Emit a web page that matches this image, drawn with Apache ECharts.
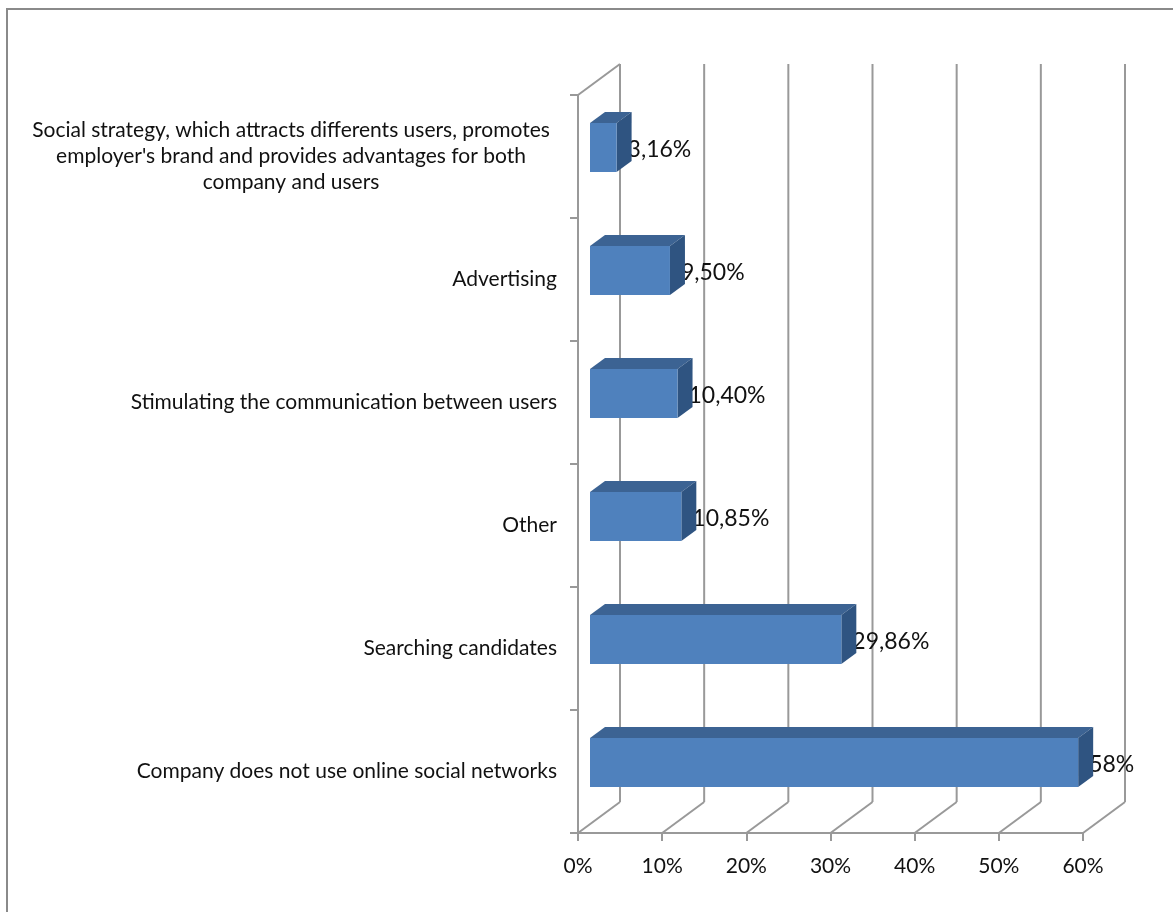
<!DOCTYPE html>
<html>
<head>
<meta charset="utf-8">
<script src="https://cdn.jsdelivr.net/npm/echarts@6/dist/echarts.min.js"></script>
<style>
html,body{margin:0;padding:0;background:#fff;}
#main{width:1173px;height:912px;}
</style>
</head>
<body>
<div id="main"></div>
<script>
const categories = [
  "Company does not use online social networks",
  "Searching candidates",
  "Other",
  "Stimulating the communication between users",
  "Advertising",
  "Social strategy, which attracts differents users, promotes\nemployer's brand and provides advantages for both\ncompany and users"
];
const values = [58, 29.86, 10.85, 10.40, 9.50, 3.16];
const valueLabels = ["58%", "29,86%", "10,85%", "10,40%", "9,50%", "3,16%"];
const xTicks = [0, 10, 20, 30, 40, 50, 60];

const FONT = 'Lato';
const DEPTH_X = 42, DEPTH_Y = -31;   // wall depth
const BAR_OFF_X = 12, BAR_OFF_Y = -9; // bar front plane offset
const BAR_DX = 15, BAR_DY = -11;      // bar depth
const GRID_COLOR = '#999999';

const chart = echarts.init(document.getElementById('main'));

function wallRender(params, api) {
  const v = api.value(0);
  const p0 = api.coord([v, 0]);
  const cs = params.coordSys;
  const x = p0[0];
  const yBottom = cs.y + cs.height;
  const yTop = cs.y;
  const children = [
    { type: 'line', shape: { x1: x + DEPTH_X, y1: yTop + DEPTH_Y, x2: x + DEPTH_X, y2: yBottom + DEPTH_Y },
      style: { stroke: GRID_COLOR, lineWidth: 2 } },
    { type: 'line', shape: { x1: x, y1: yBottom, x2: x + DEPTH_X, y2: yBottom + DEPTH_Y },
      style: { stroke: GRID_COLOR, lineWidth: 2 } }
  ];
  if (params.dataIndex === 0) {
    children.push({ type: 'line', shape: { x1: x, y1: yTop, x2: x + DEPTH_X, y2: yTop + DEPTH_Y },
      style: { stroke: GRID_COLOR, lineWidth: 2 } });
  }
  return { type: 'group', children };
}

function barRender(params, api) {
  const idx = api.value(0);
  const v = api.value(1);
  const c0 = api.coord([0, idx]);
  const c1 = api.coord([v, idx]);
  const band = api.size([0, 1])[1];
  const h = band * 0.4;
  const x0 = c0[0] + BAR_OFF_X;
  const x1 = c1[0] + BAR_OFF_X;
  const yc = c0[1] + BAR_OFF_Y;
  const yt = yc - h / 2, yb = yc + h / 2;
  return {
    type: 'group',
    children: [
      { type: 'text', x: x1 + 11, y: yc + 2,
        style: { text: valueLabels[params.dataIndex], fill: '#111', font: '23px ' + FONT,
          textAlign: 'left', textVerticalAlign: 'middle' } },
      { type: 'polygon', shape: { points: [[x0, yt], [x1, yt], [x1 + BAR_DX, yt + BAR_DY], [x0 + BAR_DX, yt + BAR_DY]] },
        style: { fill: '#3C6393' } },
      { type: 'polygon', shape: { points: [[x1, yt], [x1 + BAR_DX, yt + BAR_DY], [x1 + BAR_DX, yb + BAR_DY], [x1, yb]] },
        style: { fill: '#2F5481' } },
      { type: 'rect', shape: { x: x0, y: yt, width: x1 - x0, height: h },
        style: { fill: '#4F81BD' } }
    ]
  };
}

chart.setOption({
  backgroundColor: '#ffffff',
  animation: false,
  graphic: [{
    type: 'rect', shape: { x: 7, y: 9, width: 1180, height: 920 },
    style: { fill: 'none', stroke: '#8a8a8a', lineWidth: 2 }, z: 100
  }],
  grid: { left: 578, right: 90, top: 95, bottom: 79, containLabel: false },
  xAxis: {
    type: 'value', min: 0, max: 60, interval: 10,
    axisLine: { show: true, lineStyle: { color: GRID_COLOR, width: 2 } },
    axisTick: { show: true, length: 8, lineStyle: { color: GRID_COLOR, width: 2 } },
    splitLine: { show: false },
    axisLabel: { formatter: '{value}%', color: '#111', fontFamily: FONT, fontSize: 21, margin: 23 }
  },
  yAxis: {
    type: 'category', data: categories,
    axisLine: { show: true, lineStyle: { color: GRID_COLOR, width: 2 } },
    axisTick: { show: true, length: 8, lineStyle: { color: GRID_COLOR, width: 2 } },
    axisLabel: {
      color: '#111', fontFamily: FONT, fontSize: 21, margin: 21, align: 'right', lineHeight: 26,
      formatter: function (val) {
        if (val.indexOf('\n') >= 0) {
          return val.split('\n').map(l => '{c|' + l + '}').join('\n');
        }
        return val;
      },
      rich: { c: { width: 532, align: 'center', fontFamily: FONT, fontSize: 21, color: '#111', lineHeight: 26 } }
    }
  },
  series: [
    { type: 'custom', renderItem: wallRender, data: xTicks.map(t => [t]), encode: { x: 0 }, z: 1, silent: true },
    { type: 'custom', renderItem: barRender, data: values.map((v, i) => [i, v]), encode: { y: 0, x: 1 }, z: 5, silent: true }
  ]
});
</script>
</body>
</html>
